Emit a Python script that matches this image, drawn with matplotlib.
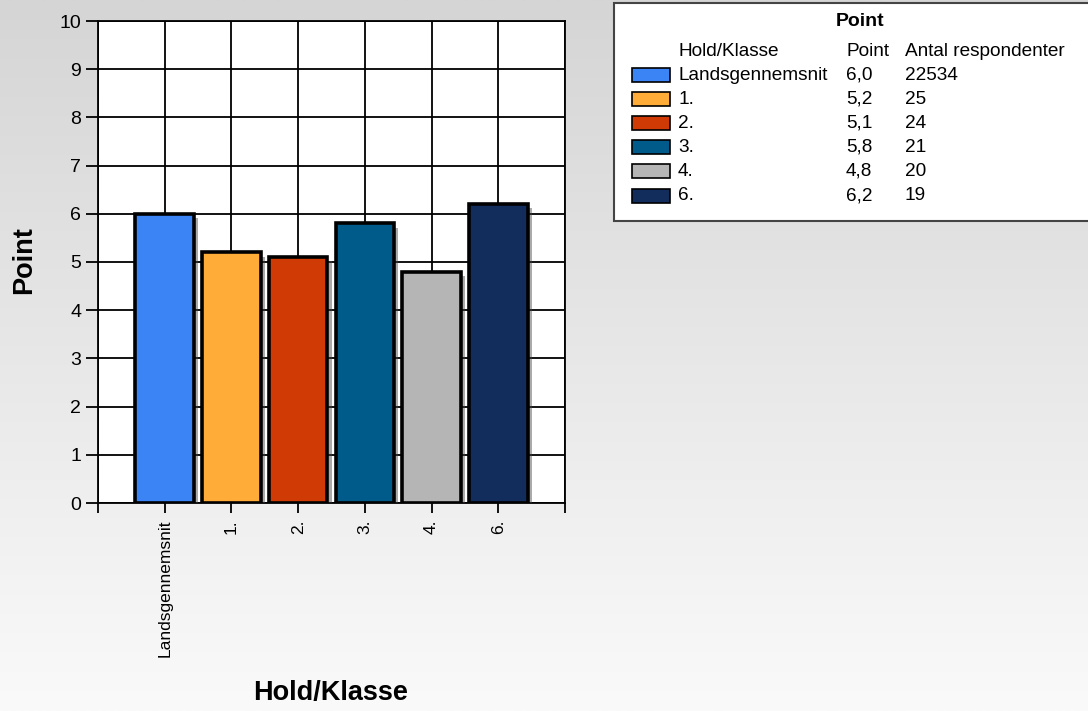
import numpy as np
import matplotlib
matplotlib.use("Agg")
import matplotlib.pyplot as plt
from matplotlib.patches import Rectangle
from matplotlib.colors import LinearSegmentedColormap
import matplotlib.patheffects as pe

plt.rcParams['font.family'] = ['Liberation Sans', 'DejaVu Sans']

categories = ["Landsgennemsnit", "1.", "2.", "3.", "4.", "6."]
values = [6.0, 5.2, 5.1, 5.8, 4.8, 6.2]
value_labels = ["6,0", "5,2", "5,1", "5,8", "4,8", "6,2"]
respondents = [22534, 25, 24, 21, 20, 19]
colors = ["#3a84f5", "#ffad38", "#d03a05", "#005a8a", "#b5b5b5", "#122c5c"]
y_ticks = list(range(0, 11))

W, H = 1088, 711
fig = plt.figure(figsize=(W / 100, H / 100), dpi=100)

# background gradient
bg = fig.add_axes([0, 0, 1, 1], zorder=-10)
grad = np.linspace(0, 1, 256).reshape(-1, 1)
cmap = LinearSegmentedColormap.from_list("g", ["#d5d5d5", "#fafafa"])
bg.imshow(grad, aspect='auto', cmap=cmap, extent=[0, 1, 0, 1], origin='upper')
bg.set_axis_off()

def fx(px):
    return px / W

def fy(py):
    return 1 - py / H

ax = fig.add_axes([fx(98), fy(503), fx(565) - fx(98), fy(21) - fy(503)])
ax.set_facecolor('white')
x = np.arange(1, len(categories) + 1)
bars = ax.bar(x, values, width=0.88, color=colors, edgecolor='black', linewidth=2.6, zorder=3)
for b in bars:
    b.set_path_effects([pe.SimplePatchShadow(offset=(3, -3), shadow_rgbFace='#444444', alpha=0.45), pe.Normal()])

ax.set_xlim(0, len(categories) + 1)
ax.set_ylim(0, 10)
ax.set_yticks(y_ticks)
ax.set_yticklabels([str(t) for t in y_ticks], fontsize=14)
ax.set_xticks(np.arange(0, len(categories) + 2))
ax.set_xticklabels([""] + categories + [""], rotation=90, fontsize=12.5)
ax.grid(True, color='black', linewidth=1.3, zorder=0)
ax.set_axisbelow(True)
ax.tick_params(axis='y', direction='out', length=9, width=1.3, pad=3, colors='black')
ax.tick_params(axis='x', direction='out', length=7, width=1.3, pad=5)
for s in ax.spines.values():
    s.set_linewidth(1.3)
    s.set_color('black')

fig.text(fx(24), fy(260), "Point", rotation=90, fontsize=19.5, fontweight='bold', ha='center', va='center')
fig.text(fx(331), fy(693), "Hold/Klasse", fontsize=19.5, fontweight='bold', ha='center', va='center')

# legend table box
fig.patches.append(Rectangle((fx(614), fy(221)), fx(1090) - fx(614), fy(3) - fy(221),
                             transform=fig.transFigure, facecolor='white', edgecolor='#444444',
                             linewidth=1.5, zorder=5))
fig.text(fx(860), fy(21), "Point", fontsize=14, fontweight='bold', ha='center', va='center', zorder=6)
lfs = 13.7
fig.text(fx(678), fy(51), "Hold/Klasse", fontsize=lfs, ha='left', va='center', zorder=6)
fig.text(fx(846), fy(51), "Point", fontsize=lfs, ha='left', va='center', zorder=6)
fig.text(fx(905), fy(51), "Antal respondenter", fontsize=lfs, ha='left', va='center', zorder=6)
row_y = [75, 99, 123, 147, 171, 196]
for cat, vl, n, c, ry in zip(categories, value_labels, respondents, colors, row_y):
    fig.patches.append(Rectangle((fx(632), fy(ry + 7)), fx(670) - fx(632), fy(ry - 7) - fy(ry + 7),
                                 transform=fig.transFigure, facecolor=c, edgecolor='black',
                                 linewidth=1.2, zorder=6))
    fig.text(fx(678), fy(ry), cat, fontsize=lfs, ha='left', va='center', zorder=6)
    fig.text(fx(846), fy(ry), vl, fontsize=lfs, ha='left', va='center', zorder=6)
    fig.text(fx(905), fy(ry), str(n), fontsize=lfs, ha='left', va='center', zorder=6)

fig.savefig("out.png", dpi=100)
